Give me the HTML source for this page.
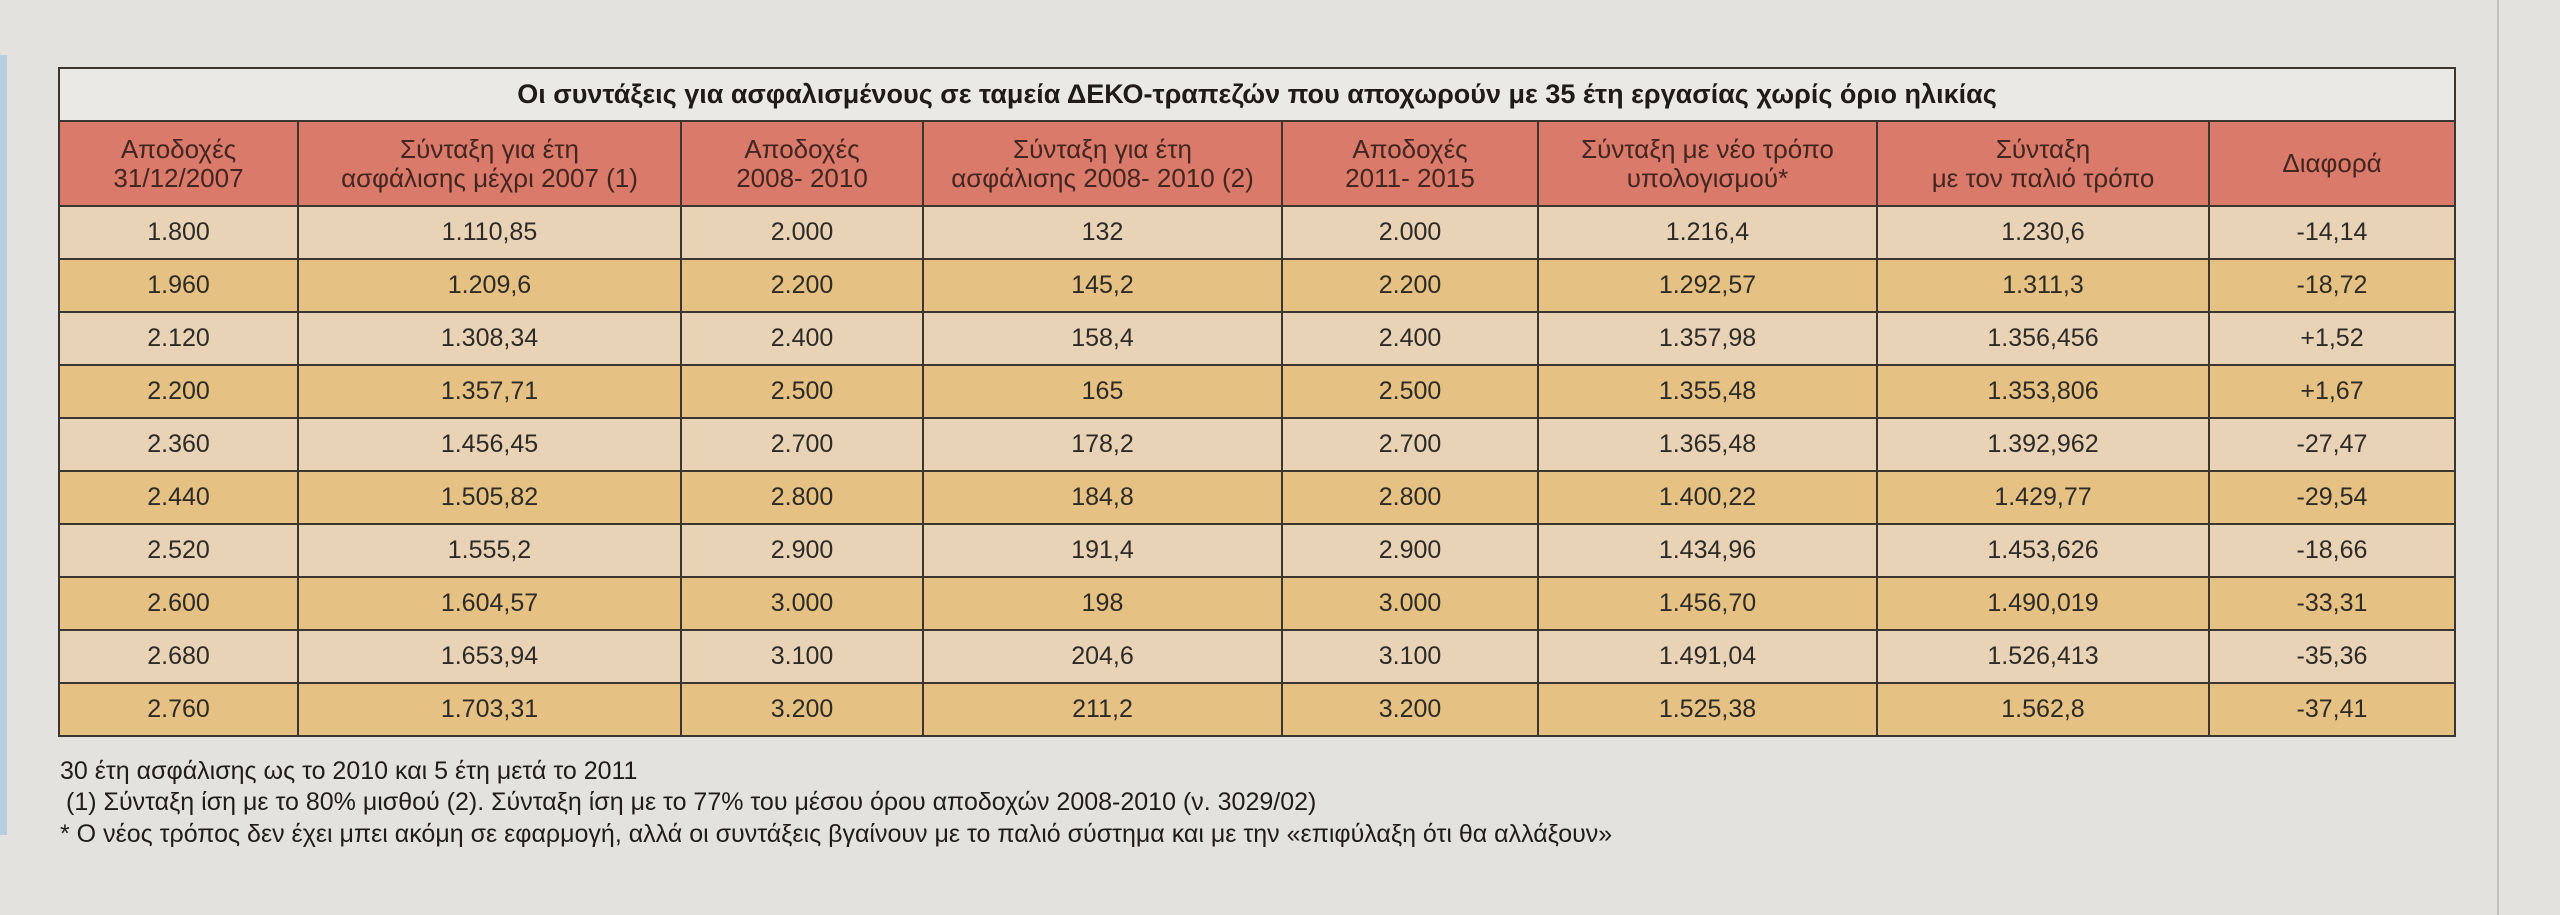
<!DOCTYPE html>
<html><head><meta charset="utf-8">
<style>
html,body{margin:0;padding:0;}
body{width:2560px;height:915px;background:#e4e2de;position:relative;overflow:hidden;font-family:"Liberation Sans","DejaVu Sans",sans-serif;color:#2e2a26;}
#tbl{position:absolute;left:58px;top:67px;border-collapse:collapse;table-layout:fixed;}
#tbl td{border:2px solid #3b3630;text-align:center;padding:0;font-size:25px;line-height:29px;overflow:hidden;white-space:nowrap;}
#tbl tr.title td{background:#ebe9e5;height:51px;font-weight:bold;font-size:27px;color:#1e1b18;}
#tbl tr.hdr td{background:#d97a6a;height:83px;color:#43261f;font-size:26px;}
#tbl tr.odd td{background:#e8d3b6;height:51px;}
#tbl tr.even td{background:#e5c283;height:51px;}
.note{position:absolute;left:60px;font-size:25px;color:#1f1c19;white-space:nowrap;}
</style></head><body>
<div style="position:absolute;left:0;top:55px;width:7px;height:780px;background:#b9cde0;"></div>
<div style="position:absolute;left:2497px;top:0;width:2px;height:915px;background:#c4c2be;"></div>
<table id="tbl">
<colgroup>
<col style="width:239px"><col style="width:383px"><col style="width:242px"><col style="width:359px"><col style="width:256px"><col style="width:339px"><col style="width:332px"><col style="width:246px">
</colgroup>
<tr class="title"><td colspan="8">Οι συντάξεις για ασφαλισμένους σε ταμεία ΔΕΚΟ-τραπεζών που αποχωρούν με 35 έτη εργασίας χωρίς όριο ηλικίας</td></tr>
<tr class="hdr">
<td>Αποδοχές<br>31/12/2007</td>
<td>Σύνταξη για έτη<br>ασφάλισης μέχρι 2007 (1)</td>
<td>Αποδοχές<br>2008- 2010</td>
<td>Σύνταξη για έτη<br>ασφάλισης 2008- 2010 (2)</td>
<td>Αποδοχές<br>2011- 2015</td>
<td>Σύνταξη με νέο τρόπο<br>υπολογισμού*</td>
<td>Σύνταξη<br>με τον παλιό τρόπο</td>
<td>Διαφορά</td>
</tr>
<tr class="odd"><td>1.800</td><td>1.110,85</td><td>2.000</td><td>132</td><td>2.000</td><td>1.216,4</td><td>1.230,6</td><td>-14,14</td></tr>
<tr class="even"><td>1.960</td><td>1.209,6</td><td>2.200</td><td>145,2</td><td>2.200</td><td>1.292,57</td><td>1.311,3</td><td>-18,72</td></tr>
<tr class="odd"><td>2.120</td><td>1.308,34</td><td>2.400</td><td>158,4</td><td>2.400</td><td>1.357,98</td><td>1.356,456</td><td>+1,52</td></tr>
<tr class="even"><td>2.200</td><td>1.357,71</td><td>2.500</td><td>165</td><td>2.500</td><td>1.355,48</td><td>1.353,806</td><td>+1,67</td></tr>
<tr class="odd"><td>2.360</td><td>1.456,45</td><td>2.700</td><td>178,2</td><td>2.700</td><td>1.365,48</td><td>1.392,962</td><td>-27,47</td></tr>
<tr class="even"><td>2.440</td><td>1.505,82</td><td>2.800</td><td>184,8</td><td>2.800</td><td>1.400,22</td><td>1.429,77</td><td>-29,54</td></tr>
<tr class="odd"><td>2.520</td><td>1.555,2</td><td>2.900</td><td>191,4</td><td>2.900</td><td>1.434,96</td><td>1.453,626</td><td>-18,66</td></tr>
<tr class="even"><td>2.600</td><td>1.604,57</td><td>3.000</td><td>198</td><td>3.000</td><td>1.456,70</td><td>1.490,019</td><td>-33,31</td></tr>
<tr class="odd"><td>2.680</td><td>1.653,94</td><td>3.100</td><td>204,6</td><td>3.100</td><td>1.491,04</td><td>1.526,413</td><td>-35,36</td></tr>
<tr class="even"><td>2.760</td><td>1.703,31</td><td>3.200</td><td>211,2</td><td>3.200</td><td>1.525,38</td><td>1.562,8</td><td>-37,41</td></tr>
</table>
<div class="note" style="top:757px;">30 έτη ασφάλισης ως το 2010 και 5 έτη μετά το 2011</div>
<div class="note" style="top:788px;left:66px;">(1) Σύνταξη ίση με το 80% μισθού (2). Σύνταξη ίση με το 77% του μέσου όρου αποδοχών 2008-2010 (ν. 3029/02)</div>
<div class="note" style="top:820px;">* Ο νέος τρόπος δεν έχει μπει ακόμη σε εφαρμογή, αλλά οι συντάξεις βγαίνουν με το παλιό σύστημα και με την «επιφύλαξη ότι θα αλλάξουν»</div>
</body></html>
